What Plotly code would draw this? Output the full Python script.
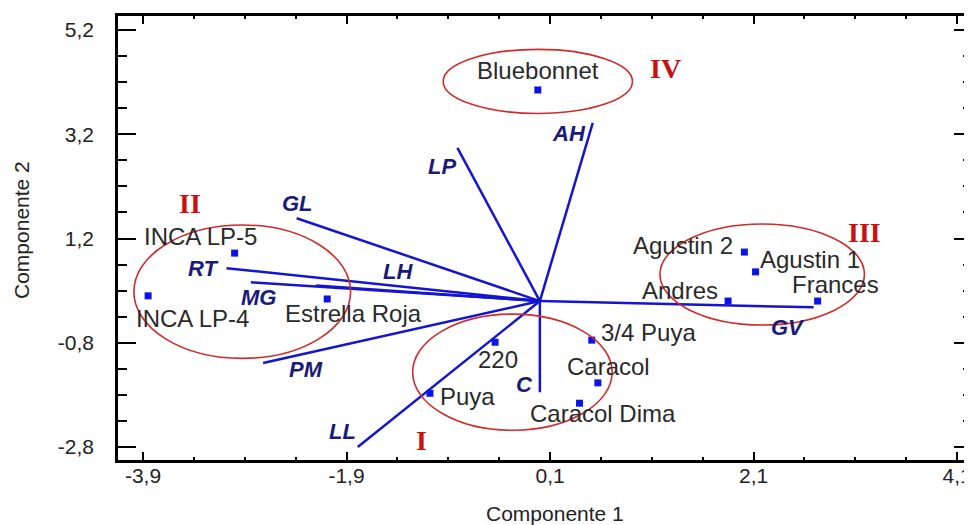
import plotly.graph_objects as go

# ---- data ----
cultivars = ["Bluebonnet", "INCA LP-5", "INCA LP-4", "Estrella Roja", "220", "Puya",
             "3/4 Puya", "Caracol", "Caracol Dima", "Agustin 2", "Agustin 1", "Andres", "Frances"]
pc1 = [-0.02, -3.00, -3.85, -2.09, -0.44, -1.08, 0.51, 0.57, 0.39, 2.01, 2.12, 1.85, 2.73]
pc2 = [4.05, 0.92, 0.10, 0.04, -0.79, -1.77, -0.75, -1.57, -1.96, 0.94, 0.56, 0.00, 0.00]
# label anchor positions (data coords)
lab_x = [-0.02, -3.34, -3.41, -1.83, -0.41, -0.71, 1.07, 0.67, 0.62, 1.41, 2.65, 1.38, 2.91]
lab_y = [4.43, 1.23, -0.33, -0.23, -1.13, -1.84, -0.61, -1.25, -2.15, 1.07, 0.79, 0.21, 0.31]

variables = ["AH", "LP", "GL", "RT", "MG", "LH", "PM", "LL", "C", "GV"]
load1 = [0.52, -0.81, -2.39, -3.08, -2.84, -2.20, -2.72, -1.79, 0.00, 2.69]
load2 = [3.42, 2.94, 1.59, 0.63, 0.36, 0.30, -1.19, -2.80, -1.75, -0.12]
var_lab_x = [0.29, -0.96, -2.38, -3.31, -2.77, -1.39, -2.30, -1.94, -0.15, 2.44]
var_lab_y = [3.22, 2.58, 1.88, 0.63, 0.06, 0.56, -1.32, -2.51, -1.61, -0.50]

groups = ["I", "II", "III", "IV"]
grp_x0 = [-1.25, -3.99, 1.18, -0.95]
grp_x1 = [0.71, -1.86, 3.19, 0.91]
grp_y0 = [-2.48, -1.10, -0.46, 3.60]
grp_y1 = [-0.25, 1.46, 1.48, 4.83]
grp_lab_x = [-1.16, -3.44, 3.19, 1.23]
grp_lab_y = [-2.67, 1.88, 1.32, 4.47]

xtick_vals = [-3.9, -1.9, 0.1, 2.1, 4.1]
xtick_text = ["-3,9", "-1,9", "0,1", "2,1", "4,1"]
ytick_vals = [-2.8, -0.8, 1.2, 3.2, 5.2]
ytick_text = ["-2,8", "-0,8", "1,2", "3,2", "5,2"]

FONT = "Liberation Sans, Arial"

# ---- figure ----
fig = go.Figure()

vx, vy = [], []
for a, b in zip(load1, load2):
    vx += [0, a, None]
    vy += [0, b, None]
fig.add_trace(go.Scatter(x=vx, y=vy, mode="lines",
                         line=dict(color="#1414d2", width=2.5), hoverinfo="skip",
                         showlegend=False))

fig.add_trace(go.Scatter(x=pc1, y=pc2, mode="markers", text=cultivars,
                         marker=dict(symbol="square", size=7, color="#0a14e6"),
                         showlegend=False))

for name, x, y in zip(cultivars, lab_x, lab_y):
    fig.add_annotation(x=x, y=y, text=name, showarrow=False,
                       font=dict(family=FONT, size=24, color="#2a2a2a"))

for name, x, y in zip(variables, var_lab_x, var_lab_y):
    fig.add_annotation(x=x, y=y, text="<b><i>" + name + "</i></b>", showarrow=False,
                       font=dict(family=FONT, size=22, color="#1a1a78"))

for g, x0, x1, y0, y1, lx, ly in zip(groups, grp_x0, grp_x1, grp_y0, grp_y1, grp_lab_x, grp_lab_y):
    fig.add_shape(type="circle", xref="x", yref="y", x0=x0, x1=x1, y0=y0, y1=y1,
                  line=dict(color="#d02a2a", width=1.6))
    fig.add_annotation(x=lx, y=ly, text="<b>" + g + "</b>", showarrow=False,
                       font=dict(family="Liberation Serif, Times New Roman", size=28, color="#cc1010"))

# axis titles
fig.add_annotation(xref="paper", yref="paper", x=(555 - 118) / 854, y=-(513 - 460) / 444,
                   text="Componente 1", showarrow=False, yanchor="middle",
                   font=dict(family=FONT, size=21, color="#222"))
fig.add_annotation(xref="paper", yref="paper", x=-(118 - 22) / 854, y=(460 - 230) / 444,
                   text="Componente 2", showarrow=False, textangle=-90, xanchor="center",
                   font=dict(family=FONT, size=21, color="#222"))

axis_common = dict(showgrid=False, zeroline=False, showline=True, linecolor="black",
                   linewidth=2.5, mirror="ticks", ticks="inside", tickcolor="black",
                   tickwidth=2, automargin=False,
                   tickfont=dict(family=FONT, size=21, color="#222"))

fig.update_xaxes(range=[-4.146, 4.247], tickmode="array", tickvals=xtick_vals, ticktext=xtick_text,
                 ticklen=8, ticklabelstandoff=-5,
                 minor=dict(tick0=-3.9, dtick=0.5, ticks="inside", ticklen=3, tickwidth=2, tickcolor="black"),
                 **axis_common)
fig.update_yaxes(range=[-3.05, 5.47], tickmode="array", tickvals=ytick_vals, ticktext=ytick_text,
                 ticklen=18, ticklabelstandoff=17,
                 minor=dict(tick0=-2.8, dtick=0.5, ticks="inside", ticklen=9, tickwidth=2, tickcolor="black"),
                 **axis_common)

# page body has an 8px default margin, so the figure is sized/offset to compensate
fig.update_layout(width=964, height=517, margin=dict(l=110, r=0, t=8, b=65),
                  plot_bgcolor="white", paper_bgcolor="white")

fig.write_html("out.html")
